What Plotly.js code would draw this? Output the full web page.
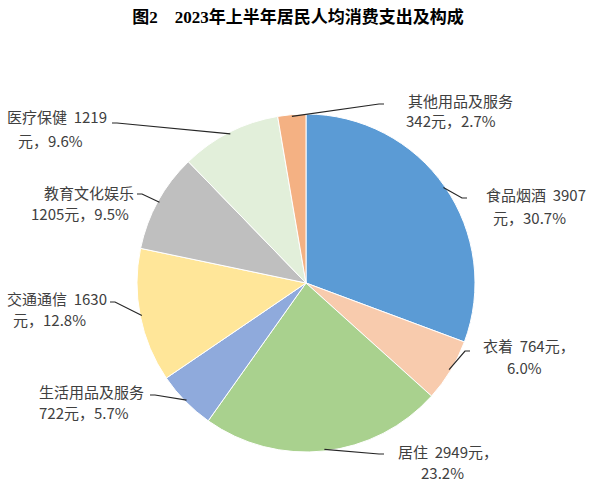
<!DOCTYPE html>
<html>
<head>
<meta charset="utf-8">
<script src="https://cdn.plot.ly/plotly-3.0.1.min.js"></script>
<style>html,body{margin:0;padding:0;background:#fff;}#chart{width:600px;height:496px;}</style>
</head>
<body>
<div id="chart"></div>
<script>
// ---- data ----
const categories = ['食品烟酒','衣着','居住','生活用品及服务','交通通信','教育文化娱乐','医疗保健','其他用品及服务'];
const values = [3907, 764, 2949, 722, 1630, 1205, 1219, 342];
const shares = ['30.7', '6.0', '23.2', '5.7', '12.8', '9.5', '9.6', '2.7'];
const colors = ['#5B9BD5','#F8CBAD','#A9D18E','#8FAADC','#FFE699','#BFBFBF','#E2EFDA','#F4B183'];
const titleText = '图2　2023年上半年居民人均消费支出及构成';

// ---- layout (pixels) ----
const W = 600, H = 496;
const CX = 306, CY = 283, R = 169;
// how each label wraps
const wrapMode = ['num','yuan','yuan','name','num','name','num','name'];
const line1Pos = [[536,195],[529,345],[448,451],[91,391],[57,298],[89,192],[57,117],[460,100]];
const line2Pos = [[529,217],[524,367],[442,472],[84,412],[49,319],[80,213],[50,140],[451,121]];
const leaderStart = [[467,198],[470,351],[384,454],[150,395],[110,302],[137,194],[112,123],[384,104]];

const px = x => x / W;
const py = y => 1 - y / H;

const labelFont = {family: '"Noto Sans CJK SC", "Noto Sans", sans-serif', size: 15, color: '#404040'};
const annotations = [];
const shapes = [];
const total = values.reduce((a, b) => a + b, 0);
let cum = 0;
categories.forEach((name, i) => {
  let l1, l2;
  if (wrapMode[i] === 'num') { l1 = name + '  ' + values[i]; l2 = '元，' + shares[i] + '%'; }
  else if (wrapMode[i] === 'yuan') { l1 = name + '  ' + values[i] + '元，'; l2 = shares[i] + '%'; }
  else { l1 = name; l2 = values[i] + '元，' + shares[i] + '%'; }
  annotations.push({x: px(line1Pos[i][0]), y: py(line1Pos[i][1]), xref: 'paper', yref: 'paper', text: l1, showarrow: false, xanchor: 'center', yanchor: 'middle', font: labelFont});
  annotations.push({x: px(line2Pos[i][0]), y: py(line2Pos[i][1]), xref: 'paper', yref: 'paper', text: l2, showarrow: false, xanchor: 'center', yanchor: 'middle', font: labelFont});
  // leader line to slice edge at mid angle (clockwise from 12 o'clock)
  const mid = (cum + values[i] / 2) / total * 2 * Math.PI;
  cum += values[i];
  const ex = CX + R * 0.99 * Math.sin(mid);
  const ey = CY - R * 0.99 * Math.cos(mid);
  const sx = leaderStart[i][0], sy = leaderStart[i][1];
  const bx = sx + (ex > sx ? 5 : -5);
  const path = 'M' + px(sx) + ',' + py(sy) + ' L' + px(bx) + ',' + py(sy) + ' L' + px(ex) + ',' + py(ey);
  shapes.push({type: 'path', xref: 'paper', yref: 'paper', path: path, line: {color: '#262626', width: 1.2}});
});

const trace = {
  type: 'pie',
  labels: categories,
  values: values,
  sort: false,
  direction: 'clockwise',
  rotation: 0,
  textinfo: 'none',
  hoverinfo: 'label+value+percent',
  marker: {colors: colors, line: {color: '#ffffff', width: 1}},
  domain: {x: [(CX - R) / W, (CX + R) / W], y: [(H - CY - R) / H, (H - CY + R) / H]},
  showlegend: false
};

const layout = {
  width: W, height: H,
  margin: {l: 0, r: 0, t: 0, b: 0},
  paper_bgcolor: '#ffffff',
  showlegend: false,
  title: {text: '<b>' + titleText + '</b>', x: 298 / W, xanchor: 'center', y: py(17), yanchor: 'middle', yref: 'paper',
    font: {family: '"Liberation Serif", "Noto Sans CJK SC", serif', size: 17, color: '#000000'}},
  annotations: annotations,
  shapes: shapes
};

Plotly.newPlot('chart', [trace], layout, {displayModeBar: false, staticPlot: true});
</script>
</body>
</html>
